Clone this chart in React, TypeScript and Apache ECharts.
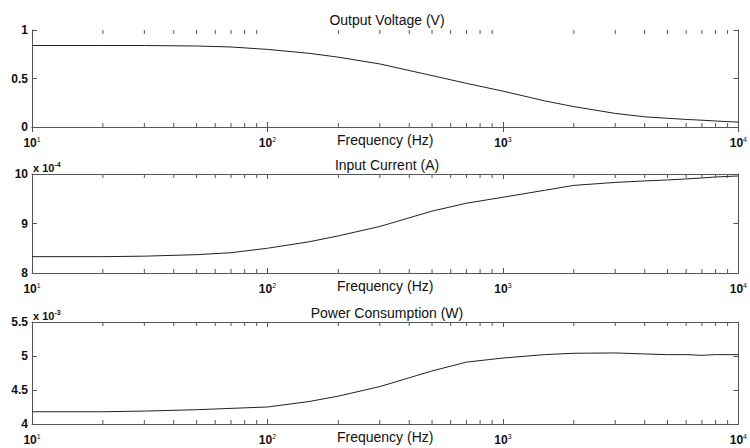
import React, { useEffect, useRef } from "react";
import * as echarts from "echarts";

const frequencies = [10, 20, 30, 50, 70, 100, 150, 200, 300, 500, 700, 1000, 1500, 2000, 3000, 4000, 5000, 6000, 7000, 8000, 10000];
const outputVoltage = [0.84, 0.84, 0.84, 0.835, 0.825, 0.8, 0.76, 0.72, 0.65, 0.53, 0.45, 0.37, 0.27, 0.21, 0.14, 0.105, 0.09, 0.078, 0.07, 0.062, 0.05];
// units of 1e-4 A
const inputCurrentE4 = [8.33, 8.33, 8.34, 8.37, 8.41, 8.5, 8.63, 8.75, 8.94, 9.25, 9.41, 9.53, 9.67, 9.77, 9.83, 9.86, 9.88, 9.9, 9.92, 9.94, 9.96];
// units of 1e-3 W
const powerE3 = [4.18, 4.18, 4.19, 4.21, 4.23, 4.25, 4.33, 4.41, 4.55, 4.78, 4.91, 4.97, 5.02, 5.04, 5.045, 5.03, 5.02, 5.02, 5.01, 5.02, 5.02];

const titles = ["Output Voltage (V)", "Input Current (A)", "Power Consumption (W)"];
const xAxisName = "Frequency (Hz)";
const exponentLabels = ["", "-4", "-3"];
const yRanges = [
  { min: 0, max: 1, interval: 0.5 },
  { min: 8, max: 10, interval: 1 },
  { min: 4, max: 5.5, interval: 0.5 },
];
const minorTickValues = [20, 30, 40, 50, 60, 70, 80, 90, 200, 300, 400, 500, 600, 700, 800, 900, 2000, 3000, 4000, 5000, 6000, 7000, 8000, 9000];

const grids = [
  { left: 32, right: 8, top: 30, height: 97 },
  { left: 32, right: 8, top: 174, height: 99 },
  { left: 32, right: 8, top: 322, height: 102 },
];

const FONT = "Liberation Sans";
const AXIS_COLOR = "#555";
const TEXT_COLOR = "#111";

export default function App() {
  const ref = useRef<HTMLDivElement>(null);
  useEffect(() => {
    if (!ref.current) return;
    const chart = echarts.init(ref.current, null, { renderer: "svg" });
    const seriesData = [outputVoltage, inputCurrentE4, powerE3];
    const xAxes: any[] = [];
    const yAxes: any[] = [];
    const series: any[] = [];
    const title: any[] = [];
    grids.forEach((g, i) => {
      const r = yRanges[i];
      xAxes.push({
        type: "log",
        logBase: 10,
        gridIndex: i,
        min: 10,
        max: 10000,
        position: "bottom",
        name: xAxisName,
        nameLocation: "middle",
        nameGap: 6,
        nameMoveOverlap: false,
        nameTextStyle: { fontFamily: FONT, fontSize: 14, color: TEXT_COLOR, verticalAlign: "top" },
        axisLine: { lineStyle: { color: AXIS_COLOR } },
        axisTick: { inside: true, length: 5, lineStyle: { color: AXIS_COLOR } },
        splitLine: { show: false },
        axisLabel: {
          margin: 9,
          formatter: (v: number) => `{b|10}{s|${Math.round(Math.log10(v))}}`,
          rich: {
            b: { fontFamily: FONT, fontSize: 12, color: TEXT_COLOR, fontWeight: "bold" },
            s: { fontFamily: FONT, fontSize: 7, color: TEXT_COLOR, verticalAlign: "top", padding: [0, 0, 7, 0] },
          },
        },
      });
      xAxes.push({
        type: "log",
        logBase: 10,
        gridIndex: i,
        min: 10,
        max: 10000,
        position: "top",
        axisLine: { lineStyle: { color: AXIS_COLOR } },
        axisTick: { inside: true, length: 5, lineStyle: { color: AXIS_COLOR } },
        axisLabel: { show: false },
        splitLine: { show: false },
      });
      yAxes.push({
        type: "value",
        gridIndex: i,
        min: r.min,
        max: r.max,
        interval: r.interval,
        position: "left",
        axisLine: { show: true, lineStyle: { color: AXIS_COLOR } },
        axisTick: { show: true, inside: true, length: 5, lineStyle: { color: AXIS_COLOR } },
        splitLine: { show: false },
        axisLabel: { margin: 4, fontFamily: FONT, fontSize: 12, color: TEXT_COLOR, fontWeight: "bold" },
      });
      yAxes.push({
        type: "value",
        gridIndex: i,
        min: r.min,
        max: r.max,
        interval: r.interval,
        position: "right",
        axisLine: { show: true, lineStyle: { color: AXIS_COLOR } },
        axisTick: { show: true, inside: true, length: 5, lineStyle: { color: AXIS_COLOR } },
        splitLine: { show: false },
        axisLabel: { show: false },
      });
      series.push({
        type: "line",
        xAxisIndex: i * 2,
        yAxisIndex: i * 2,
        data: frequencies.map((f, k) => [f, seriesData[i][k]]),
        showSymbol: false,
        lineStyle: { color: "#222", width: 1 },
        silent: true,
        z: 3,
      });
      series.push({
        type: "custom",
        xAxisIndex: i * 2,
        yAxisIndex: i * 2,
        silent: true,
        clip: false,
        z: 5,
        data: minorTickValues.map((v) => [v, r.min, r.max]),
        renderItem: (_params: any, api: any) => {
          const pb = api.coord([api.value(0), api.value(1)]);
          const pt = api.coord([api.value(0), api.value(2)]);
          const style = { stroke: AXIS_COLOR, lineWidth: 1, fill: null };
          return {
            type: "group",
            children: [
              { type: "line", shape: { x1: pb[0], y1: pb[1], x2: pb[0], y2: pb[1] - 4 }, style },
              { type: "line", shape: { x1: pt[0], y1: pt[1], x2: pt[0], y2: pt[1] + 4 }, style },
            ],
          };
        },
      });
      title.push({
        text: titles[i],
        left: 387,
        textAlign: "center",
        top: g.top - (i === 0 ? 17 : 16),
        padding: 0,
        textStyle: { fontFamily: FONT, fontSize: 14, fontWeight: "normal", color: TEXT_COLOR },
      });
      if (exponentLabels[i]) {
        title.push({
          text: `{a|x 10}{s|${exponentLabels[i]}}`,
          left: 33,
          top: g.top - 13,
          padding: 0,
          textStyle: {
            rich: {
              a: { fontFamily: FONT, fontSize: 11, color: TEXT_COLOR },
              s: { fontFamily: FONT, fontSize: 7, color: TEXT_COLOR, verticalAlign: "top", padding: [0, 0, 6, 0] },
            },
          },
        });
      }
    });
    chart.setOption({
      animation: false,
      backgroundColor: "#fff",
      title,
      grid: grids,
      xAxis: xAxes,
      yAxis: yAxes,
      series,
    });
    return () => chart.dispose();
  }, []);
  return <div ref={ref} style={{ width: 750, height: 448, position: "absolute", left: 0, top: 0 }} />;
}
